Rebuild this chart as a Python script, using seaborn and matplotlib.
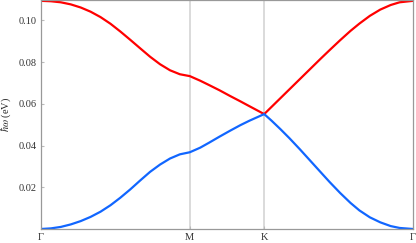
# phonon-like band structure along G-M-K-G
import numpy as np
import pandas as pd
import matplotlib
matplotlib.use("Agg")
import matplotlib.pyplot as plt
import seaborn as sns

# ---- data ----
k_path = [0, 0.067, 0.133, 0.2, 0.267, 0.333, 0.4, 0.467, 0.533, 0.6, 0.667,
          0.733, 0.8, 0.867, 0.933, 1.0, 1.07, 1.13, 1.20, 1.27, 1.34, 1.40,
          1.5, 1.55, 1.61, 1.67, 1.74, 1.81, 1.88, 1.94, 2.01, 2.08, 2.14,
          2.21, 2.28, 2.35, 2.41, 2.5]
upper_band = [0.1094, 0.1092, 0.1087, 0.1077, 0.1062, 0.1042, 0.1016, 0.0984,
              0.0947, 0.0907, 0.0866, 0.0826, 0.0790, 0.0761, 0.0742, 0.0733,
              0.0711, 0.0690, 0.0665, 0.0638, 0.0612, 0.0589, 0.0551,
              0.0586, 0.0628, 0.0670, 0.0719, 0.0768, 0.0817, 0.0858, 0.0905,
              0.0950, 0.0985, 0.1022, 0.1052, 0.1074, 0.1087, 0.1094]
lower_band = [0.0, 0.0003, 0.0010, 0.0022, 0.0038, 0.0058, 0.0083, 0.0114,
              0.0150, 0.0190, 0.0233, 0.0274, 0.0309, 0.0338, 0.0358, 0.0368,
              0.0390, 0.0414, 0.0443, 0.0471, 0.0498, 0.0519, 0.0551,
              0.0519, 0.0478, 0.0435, 0.0382, 0.0327, 0.0272, 0.0225, 0.0173,
              0.0125, 0.0089, 0.0056, 0.0032, 0.0014, 0.0005, 0.0]
sym_pos = [0, 1.0, 1.5, 2.5]
sym_labels = ["Γ", "M", "K", "Γ"]
y_ticks = [0.02, 0.04, 0.06, 0.08, 0.10]

df = pd.DataFrame({"k": k_path, "upper": upper_band, "lower": lower_band})

# ---- style ----
sns.set_style("ticks")
plt.rcParams["font.family"] = ["Liberation Serif", "DejaVu Serif"]
plt.rcParams["mathtext.fontset"] = "stix"

fig = plt.figure(figsize=(4.16, 2.43), dpi=100)
ax = fig.add_axes([0.0986, 0.0576, 0.8942, 0.9424])

# high-symmetry guide lines
for p in sym_pos[1:-1]:
    ax.axvline(p, color="#d4d4d4", lw=1.2, zorder=0)

sns.lineplot(data=df, x="k", y="upper", color="#ff0000", lw=1.6,
             sort=False, estimator=None, ax=ax)
sns.lineplot(data=df, x="k", y="lower", color="#1166ff", lw=1.6,
             sort=False, estimator=None, ax=ax)

ax.set_xlim(0, 2.5)
ax.set_ylim(0, 0.1098)
ax.set_xticks(sym_pos)
ax.set_xticklabels(sym_labels)
ax.set_yticks(y_ticks)
ax.set_yticklabels(["%.2f" % v for v in y_ticks])
ax.set_xlabel("")
ax.set_ylabel(r"$\hbar\omega$ (eV)", fontsize=7.5, labelpad=4)

ax.tick_params(direction="in", length=2.5, width=0.8, color="#bbbbbb",
               labelsize=7.5, pad=3, labelcolor="#333333")
for s in ax.spines.values():
    s.set_color("#999999")
    s.set_linewidth(0.9)

fig.savefig("out.png", dpi=100)
